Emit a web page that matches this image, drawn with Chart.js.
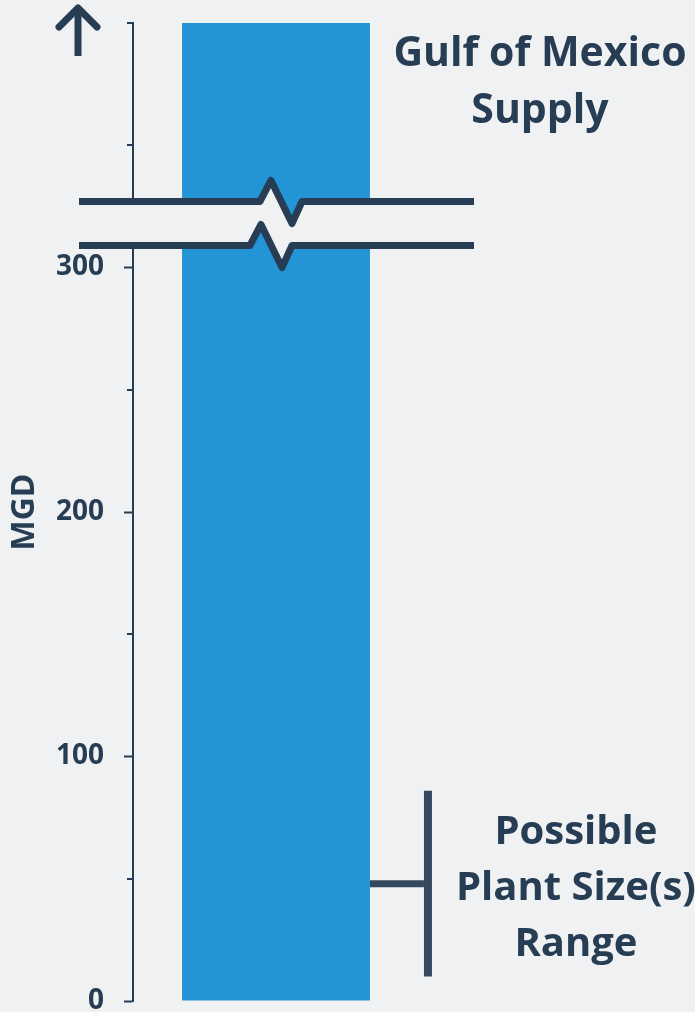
<!DOCTYPE html>
<html>
<head>
<meta charset="utf-8">
<title>Gulf of Mexico Supply</title>
<script src="https://cdn.jsdelivr.net/npm/chart.js@4/dist/chart.umd.min.js"></script>
<style>
  html, body { margin: 0; padding: 0; background: #eff1f3; overflow: hidden; }
  canvas { display: block; }
</style>
</head>
<body>
<canvas id="chart" width="695" height="1012"></canvas>
<script>
// ---- data ----
const categories = ['Gulf of Mexico Supply'];
const supplyValues = [400];            // runs off the top of the axis (broken axis)
const plantSizeRange = [10, 86];       // MGD, low / high
const axisRange = [0, 400];
const axisStep = 50;
const tickLabels = ['0', '100', '200', '300'];
const axisBreak = [309, 327];          // where the axis is visually broken
const axisTitle = 'MGD';
const supplyLabel = ['Gulf of Mexico', 'Supply'];
const rangeLabel = ['Possible', 'Plant Size(s)', 'Range'];

// ---- styles ----
const INK = '#263d54';
const BRACKET = '#34495e';
const BAR = '#2394d6';
const BG = '#eff1f3';
const FONT = '"Open Sans", "DejaVu Sans", sans-serif';

function polyline(ctx, pts) {
  ctx.beginPath();
  pts.forEach(([px, py], i) => (i ? ctx.lineTo(px, py) : ctx.moveTo(px, py)));
}

const decorations = {
  id: 'decorations',
  afterDraw(chart) {
    const { ctx, chartArea: area, scales: { y } } = chart;
    const bar = chart.getDatasetMeta(0).data[0];
    const barRight = bar.x + bar.width / 2;
    ctx.save();

    // short minor ticks (50s and the top of the axis)
    ctx.strokeStyle = INK;
    ctx.lineWidth = 2;
    y.ticks.forEach(t => {
      if (tickLabels.includes(String(t.value))) return;
      const py = Math.round(y.getPixelForValue(t.value));
      ctx.beginPath();
      ctx.moveTo(area.left - 6, py);
      ctx.lineTo(area.left, py);
      ctx.stroke();
    });

    // axis break: blank band with two zig-zag lines
    const yUp = y.getPixelForValue(axisBreak[1]);
    const yLo = y.getPixelForValue(axisBreak[0]);
    const x0 = area.left - 54, x1 = bar.x + 198;
    const zig = (cx, yy) => [[x0, yy], [cx - 16, yy], [cx - 5, yy - 21], [cx + 16, yy + 22], [cx + 26, yy], [x1, yy]];
    const up = zig(bar.x, yUp);
    const lo = zig(bar.x - 10, yLo);
    ctx.fillStyle = BG;
    polyline(ctx, up.concat(lo.slice().reverse()));
    ctx.closePath();
    ctx.fill();
    ctx.strokeStyle = INK;
    ctx.lineWidth = 7;
    ctx.lineJoin = 'round';
    ctx.lineCap = 'butt';
    polyline(ctx, up); ctx.stroke();
    polyline(ctx, lo); ctx.stroke();

    // "continues upward" arrow
    const ax = area.left - 55, at = area.top - 18;
    ctx.lineWidth = 7;
    polyline(ctx, [[ax, at + 51], [ax, at + 3]]); ctx.stroke();
    ctx.lineCap = 'round';
    polyline(ctx, [[ax - 19, at + 22], [ax, at + 3], [ax + 19, at + 22]]); ctx.stroke();

    // plant size range bracket
    const bTop = y.getPixelForValue(plantSizeRange[1]);
    const bBot = y.getPixelForValue(plantSizeRange[0]);
    const bMid = y.getPixelForValue((plantSizeRange[0] + plantSizeRange[1]) / 2);
    const bx = barRight + 58;
    ctx.lineCap = 'butt';
    ctx.strokeStyle = BRACKET;
    ctx.lineWidth = 8;
    polyline(ctx, [[bx, bTop], [bx, bBot]]); ctx.stroke();
    ctx.lineWidth = 7;
    polyline(ctx, [[barRight, bMid], [bx - 4, bMid]]); ctx.stroke();

    // text labels
    ctx.fillStyle = INK;
    ctx.textAlign = 'center';
    ctx.textBaseline = 'alphabetic';
    ctx.font = `bold 41px ${FONT}`;
    const sx = barRight + 170;
    supplyLabel.forEach((line, i) => ctx.fillText(line, sx, area.top + 43 + i * 57));
    ctx.font = `bold 40px ${FONT}`;
    const rx = bx + 148;
    rangeLabel.forEach((line, i) => ctx.fillText(line, rx, bMid + 16 + (i - 1) * 56));

    ctx.restore();
  }
};

new Chart(document.getElementById('chart'), {
  type: 'bar',
  data: {
    labels: categories,
    datasets: [{
      data: supplyValues,
      backgroundColor: BAR,
      borderWidth: 0,
      barPercentage: 0.657,
      categoryPercentage: 1
    }]
  },
  options: {
    responsive: false,
    animation: false,
    devicePixelRatio: 1,
    layout: { padding: { top: 23, right: 276, bottom: 11, left: 0 } },
    plugins: { legend: { display: false }, tooltip: { enabled: false } },
    scales: {
      x: { display: false },
      y: {
        min: axisRange[0],
        max: axisRange[1],
        ticks: {
          stepSize: axisStep,
          autoSkip: false,
          color: INK,
          padding: 20,
          font: { family: FONT, size: 28, weight: 'bold' },
          callback: v => (tickLabels.includes(String(v)) ? String(v) : '')
        },
        grid: {
          drawOnChartArea: false,
          tickLength: 9,
          tickWidth: 2,
          tickColor: c => (c.tick && tickLabels.includes(String(c.tick.value)) ? INK : 'rgba(0,0,0,0)')
        },
        border: { display: true, color: INK, width: 2 },
        title: {
          display: true,
          text: axisTitle,
          color: INK,
          font: { family: FONT, size: 32, weight: 'bold' },
          padding: { top: 6, bottom: 0 }
        },
        afterFit(scale) {
          scale.width = 133;
          scale.paddingTop = 0;
          scale.paddingBottom = 0;
        }
      }
    }
  },
  plugins: [decorations]
});
</script>
</body>
</html>
